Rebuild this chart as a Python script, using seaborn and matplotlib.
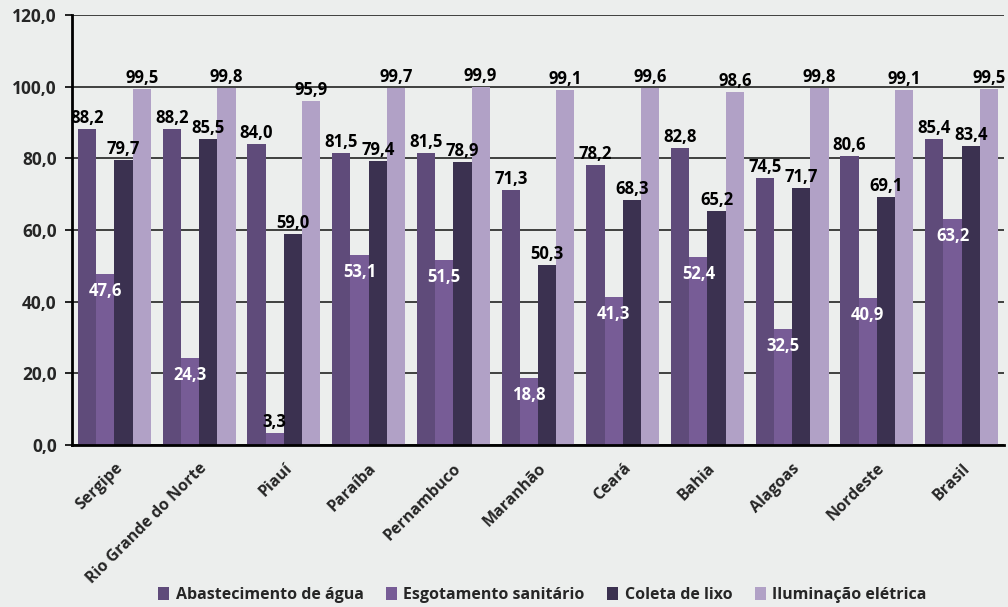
import pandas as pd
import numpy as np
import matplotlib.pyplot as plt
import seaborn as sns

estados = ['Sergipe', 'Rio Grande do Norte', 'Piauí', 'Paraíba', 'Pernambuco', 'Maranhão',
           'Ceará', 'Bahia', 'Alagoas', 'Nordeste', 'Brasil']
series = ['Abastecimento de água', 'Esgotamento sanitário', 'Coleta de lixo', 'Iluminação elétrica']
agua = [88.2, 88.2, 84.0, 81.5, 81.5, 71.3, 78.2, 82.8, 74.5, 80.6, 85.4]
esgoto = [47.6, 24.3, 3.3, 53.1, 51.5, 18.8, 41.3, 52.4, 32.5, 40.9, 63.2]
lixo = [79.7, 85.5, 59.0, 79.4, 78.9, 50.3, 68.3, 65.2, 71.7, 69.1, 83.4]
luz = [99.5, 99.8, 95.9, 99.7, 99.9, 99.1, 99.6, 98.6, 99.8, 99.1, 99.5]
cores = ['#5f4b7a', '#775c96', '#3b3150', '#b1a1c6']

df = pd.DataFrame({'estado': estados * 4,
                   'serie': np.repeat(series, len(estados)),
                   'valor': agua + esgoto + lixo + luz})

sns.set_style('white')
plt.rcParams['font.family'] = ['Open Sans', 'DejaVu Sans']
BG = '#eceeed'

fig, ax = plt.subplots(figsize=(10.08, 6.07), dpi=100)
fig.patch.set_facecolor(BG)
ax.set_facecolor(BG)
fig.subplots_adjust(left=0.0715, right=0.996, top=0.975, bottom=0.267)

sns.barplot(data=df, x='estado', y='valor', hue='serie', palette=cores, width=0.86,
            saturation=1, linewidth=0, ax=ax, zorder=3, legend=True)

# rótulos dos valores
for cont, nome in zip(ax.containers, series):
    for bar, v in zip(cont, cont.datavalues):
        txt = f'{v:.1f}'.replace('.', ',')
        xc = bar.get_x() + bar.get_width() / 2
        if nome == 'Esgotamento sanitário' and v > 10:
            ax.annotate(txt, (xc, v), xytext=(0, -17), textcoords='offset pixels',
                        ha='center', va='center', color='white', fontsize=12, fontweight='bold', zorder=5)
        else:
            ax.annotate(txt, (xc, v), xytext=(0, 11), textcoords='offset pixels',
                        ha='center', va='center', color='black', fontsize=12, fontweight='bold', zorder=5)

ax.set_ylim(0, 120)
ax.set_xlim(-0.5, len(estados) - 0.5)
yt = np.arange(0, 121, 20)
ax.set_yticks(yt)
ax.set_yticklabels([f'{t:.1f}'.replace('.', ',') for t in yt], fontsize=12.5, fontweight='bold')
ax.yaxis.grid(True, color='#222222', linewidth=1.2, zorder=0)
ax.set_axisbelow(True)

ax.set_xticks(range(len(estados)))
ax.set_xticklabels(estados, rotation=45, ha='right', rotation_mode='anchor', fontsize=11.5, fontweight='bold')
ax.set_xticks(np.arange(-0.5, len(estados)), minor=True)
ax.tick_params(axis='x', which='major', length=0, pad=11)
ax.tick_params(axis='x', which='minor', length=5, direction='out', width=1.2, color='black')
ax.tick_params(axis='y', length=5, direction='out', width=1.2, color='black', left=True, pad=6)
ax.set_xlabel('')
ax.set_ylabel('')

for s in ['top', 'right']:
    ax.spines[s].set_visible(False)
for s in ['left', 'bottom']:
    ax.spines[s].set_color('black')
    ax.spines[s].set_linewidth(2)
    ax.spines[s].set_zorder(6)

handles, labels = ax.get_legend_handles_labels()
ax.get_legend().remove()
fig.legend(handles, labels, loc='center', bbox_to_anchor=(0.538, 12 / 607), ncol=4, frameon=False,
           handlelength=0.7, handleheight=0.9, handletextpad=0.4, columnspacing=1.4,
           prop={'weight': 'bold', 'size': 11.5})

plt.savefig('out.png', dpi=100, facecolor=BG)
